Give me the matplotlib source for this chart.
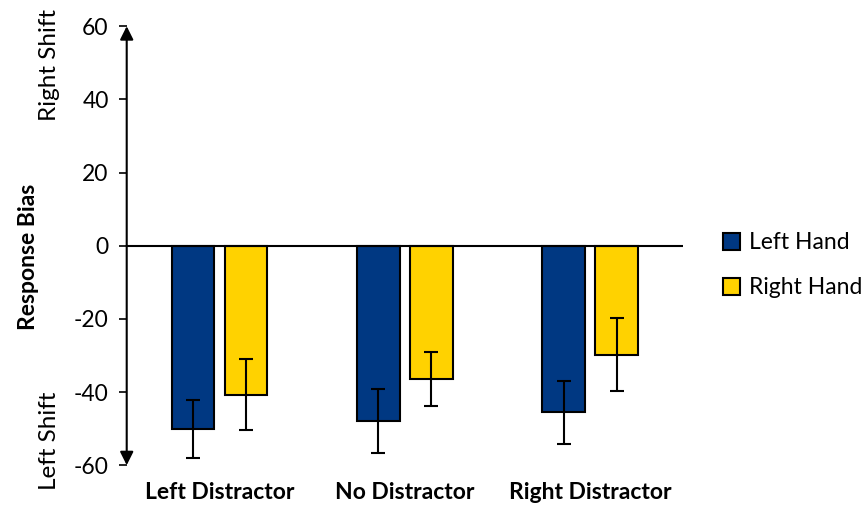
import matplotlib.pyplot as plt
import numpy as np

plt.rcParams['font.family'] = ['Lato', 'DejaVu Sans']

categories = ["Left Distractor", "No Distractor", "Right Distractor"]
series_names = ["Left Hand", "Right Hand"]
left_hand = [-50.1, -47.9, -45.6]
left_hand_err = [8.0, 8.8, 8.5]
right_hand = [-40.7, -36.5, -29.8]
right_hand_err = [9.7, 7.4, 10.0]
y_ticks = [-60, -40, -20, 0, 20, 40, 60]

colors = ["#003882", "#FFD200"]
FS = 16.5

fig = plt.figure(figsize=(8.62, 5.14), dpi=100)
ax = fig.add_axes([0.147, 0.095, 0.645, 0.854])

x = np.arange(len(categories))
width = 0.23
offset = 0.143

for vals, errs, col, name, sgn in [
    (left_hand, left_hand_err, colors[0], series_names[0], -1),
    (right_hand, right_hand_err, colors[1], series_names[1], 1),
]:
    ax.bar(x + sgn * offset, vals, width, color=col, edgecolor="black",
           linewidth=1.5, label=name, zorder=2)
    ax.errorbar(x + sgn * offset, vals, yerr=errs, fmt="none", ecolor="black",
                elinewidth=1.5, capsize=5, capthick=1.5, zorder=3)

ax.set_xlim(-0.5, 2.5)
ax.set_ylim(-60, 60)
ax.axhline(0, color="black", lw=1.5, zorder=4)

ax.set_yticks(y_ticks)
ax.set_yticklabels([str(t) for t in y_ticks], fontsize=FS)
ax.tick_params(axis="y", direction="out", length=6, width=1.2, pad=7)

ax.set_xticks(x)
ax.set_xticklabels(categories, fontsize=FS, fontweight="bold")
ax.tick_params(axis="x", length=0, pad=12)

for s in ["top", "right", "bottom", "left"]:
    ax.spines[s].set_visible(False)

# double-headed vertical axis
for end in (1.0, 0.0):
    ax.annotate("", xy=(0, end), xytext=(0, 0.5), xycoords="axes fraction",
                textcoords="axes fraction",
                arrowprops=dict(arrowstyle="-|>", color="black", lw=1.5,
                                mutation_scale=20, shrinkA=0, shrinkB=0),
                zorder=5)

fig.text(0.033, 0.50, "Response Bias", rotation=90, fontsize=FS,
         fontweight="bold", ha="center", va="center")
fig.text(0.057, 0.874, "Right Shift", rotation=90, fontsize=FS + 1,
         ha="center", va="center")
fig.text(0.057, 0.143, "Left Shift", rotation=90, fontsize=FS + 1,
         ha="center", va="center")

ax.legend(loc="center left", bbox_to_anchor=(1.052, 0.455), frameon=False,
          fontsize=FS, handlelength=0.75, handleheight=0.75, handletextpad=0.4,
          labelspacing=1.05, borderpad=0)

fig.savefig("out.png", dpi=100)
